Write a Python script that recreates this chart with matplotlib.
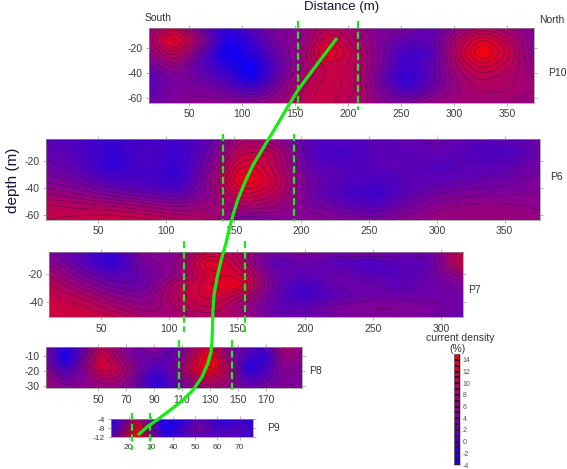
import numpy as np
import matplotlib
matplotlib.use('Agg')
import matplotlib.pyplot as plt
from matplotlib.colors import LinearSegmentedColormap

plt.rcParams['font.family'] = ['Liberation Sans', 'DejaVu Sans']
plt.rcParams['axes.unicode_minus'] = False

W, H = 567, 469

# current density (rows = depth, columns = distance)
p10_x = [12, 36, 60, 85, 109, 133, 157, 181, 206, 230, 254, 278, 302, 326, 351, 375]
p10_d = [-4, -14, -24, -34, -44, -54, -64]
p10_z = [[6, 10, 4, 0, 3, 5, 6, 9, 7, 5, 5, 3, 6, 8, 7, 5],
         [7, 13, 7, -1, 1, 5, 6, 11, 8, 5, 3, 3, 8, 12, 9, 5],
         [6, 10, 4, -2, 0, 4, 7, 13, 9, 5, 1.5, 2, 9, 14, 10, 5],
         [4, 7, 3, 0, -2, 3, 7, 10, 9, 5, 1, 3, 8, 11, 9, 6],
         [2.5, 5, 4, 2, -2, 4, 8, 10, 9, 4, 0, 3, 7, 9, 8, 7],
         [3, 5, 5, 4, 2, 5, 9, 10, 9, 5, 1.5, 4, 7, 8, 8, 7],
         [4, 5, 6, 6, 6, 7, 9, 10, 8, 6, 5, 7, 7, 7, 7, 6]]

p6_x = [12, 36, 60, 85, 109, 133, 157, 181, 206, 230, 254, 278, 302, 326, 351, 376]
p6_d = [-4, -14, -24, -34, -44, -54, -64]
p6_z = [[3, 2, 1, 2, 1.5, 3, 8, 6, 2.5, 2.5, 3, 3.5, 4, 3, 3, 4],
        [3.5, 2.5, 0.5, 2.5, 1, 4, 10, 9, 2.5, 1.5, 3, 3, 3.5, 2.5, 2, 4],
        [4, 3, 0, 2.5, 0.5, 5, 12, 9, 3, 2.5, 3, 3, 2.5, 3, 3, 4.5],
        [5, 4, 2, 2, 0.5, 6, 14, 10, 4, 3, 2, 3, 3, 3.5, 4, 5],
        [7, 6, 4.5, 3.5, 2.5, 6, 11, 9, 4, 2, 1, 3, 4.5, 5, 5, 5.5],
        [9, 8.5, 8, 7, 6, 7, 8, 7, 5, 3.5, 2.5, 4.5, 6, 6.5, 6.5, 6],
        [9.5, 10, 10.5, 10, 9, 8, 4, 5, 6, 5.5, 5, 6, 7, 7, 7, 6.5]]

p7_x = [12, 35, 59, 82, 106, 129, 152, 176, 199, 223, 246, 270, 293, 316]
p7_d = [-4, -12, -20, -28, -36, -44, -52]
p7_z = [[5, 3, 0.5, 6, 5, 10, 8, 4, 5, 4, 5, 4, 4, 10],
        [6, 3, 0, 5, 6, 13, 9, 2.5, 4, 3, 1.5, 3, 3, 11],
        [8, 4.5, 2.5, 4, 6, 11, 11, 4, 3, 4, 3, 2.5, 4, 7],
        [9, 6.5, 4, 3.5, 9, 11, 13, 4, 1.5, 4, 4, 3, 4, 5],
        [10, 8.5, 6, 5, 9, 11, 9, 4, 1, 3, 4, 4, 4, 4],
        [10, 10, 8, 6, 8, 10, 7, 3.5, 3, 5, 5.5, 5.5, 5, 4],
        [10, 10.5, 10, 8, 7, 8, 8, 4, 4, 4.5, 5, 5, 4.5, 3.5]]

p8_x = [12.5, 25.6, 38.7, 51.8, 64.9, 78, 91.1, 104.2, 117.4, 130.5, 143.6, 156.7, 169.8, 182.9, 196]
p8_d = [-4, -11, -18, -25, -32]
p8_z = [[5, 0, 3, 9, 6, 4, 6, 3, 7, 11, 5, 3, 2, 8, 6],
        [5, -2, 4, 11, 7, 4, 4, 3, 9, 14, 6, 2, 0, 7, 6],
        [6, 1, 5, 11, 9, 5, 2, 4, 11, 14, 8, -1, 2, 6, 5],
        [7, 4, 5, 8, 8, 4, 0, 3, 8, 10, 7, 2, 3, 5, 5],
        [7, 6, 6, 6, 6, 4, 0, 3, 6, 7, 6, 4, 5, 6, 5]]

p9_x = [12, 17.8, 23.6, 29.5, 35.3, 41.1, 46.9, 52.7, 58.5, 64.4, 70.2, 76]
p9_d = [-4, -8, -12]
p9_z = [[0, 3, 9, 3, 0, -1, 1, 3, 1, 0, 1, 0],
        [0, 5, 13, 6, -1, 0, 3, 5, 2, 2, 3, 1],
        [2, 9, 14, 7, 1, 1, 3, 3, 3, 3, 2, 1]]

# green trace across the sections, in picture pixels
trace_x = [337, 318, 298, 287, 277, 265, 253, 245, 238, 233, 229, 226, 221, 217, 214, 213,
           212.5, 212, 211, 208, 202, 193, 183, 173, 157, 147, 138]
trace_y = [38, 63, 90, 108, 125, 145, 165, 182, 199, 215, 230, 243, 261, 278, 295, 310,
           325, 342, 352, 363, 377, 390, 400, 408, 420, 427, 435]

cbar_levels = [-4, -2, 0, 2, 4, 6, 8, 10, 12, 14]

cmap = LinearSegmentedColormap.from_list('density', ['#0000ff', '#8a0090', '#ff0000'])
norm = plt.Normalize(-4, 15)
fill_levels = np.arange(-5, 17.01, 0.5)
line_levels = np.arange(-4, 15.01, 1)


def upsample(x, d, z, n=12, blur=3):
    # refine the read-off grid and soften it so contours look round
    x2 = np.linspace(x[0], x[-1], (len(x) - 1) * n + 1)
    d2 = np.linspace(d[0], d[-1], (len(d) - 1) * n + 1)
    z = np.array(z, dtype=float)
    a = np.array([np.interp(x2, x, row) for row in z])
    b = np.array([np.interp(d2[::-1], d[::-1], col[::-1])[::-1] for col in a.T]).T
    k = np.exp(-0.5 * (np.arange(-3 * blur, 3 * blur + 1) / blur) ** 2)
    k = k / k.sum()
    pad = 3 * blur
    b = np.pad(b, pad, mode='edge')
    b = np.apply_along_axis(lambda v: np.convolve(v, k, mode='same'), 0, b)
    b = np.apply_along_axis(lambda v: np.convolve(v, k, mode='same'), 1, b)
    return x2, d2, b[pad:-pad, pad:-pad] * 1.2 - 1.4


def box(left, right, top, bottom):
    return [left / W, 1 - bottom / H, (right - left) / W, (bottom - top) / H]


def section(rect, x, d, z, xlim, ylim, xticks, yticks, dash_x, dash_y, size=7.5):
    ax = fig.add_axes(box(*rect))
    x2, d2, z2 = upsample(x, d, z)
    ax.contourf(x2, d2, z2, levels=fill_levels, cmap=cmap, norm=norm, extend='both')
    styles = [':' if v < 3 else '-' for v in line_levels]
    ax.contour(x2, d2, z2, levels=line_levels, colors='#2a0a40', linewidths=0.4,
               linestyles=styles, alpha=0.65)
    ax.set_xlim(xlim)
    ax.set_ylim(ylim)
    ax.set_xticks(xticks)
    ax.set_yticks(yticks)
    ax.tick_params(top=True, right=True, direction='out', length=2.5, width=0.5,
                   color='#909090', labelcolor='#3c3c3c', labelsize=size, pad=2)
    for s in ax.spines.values():
        s.set_linewidth(0.5)
        s.set_color('#909090')
    for xd in dash_x:
        ax.plot([xd, xd], dash_y, color='#1fe61f', lw=1.6, ls=(0, (3.2, 1.6)),
                clip_on=False, zorder=5)
    return ax


fig = plt.figure(figsize=(W / 100, H / 100), dpi=100, facecolor='white')

section((148.5, 534, 28, 103), p10_x, p10_d, p10_z, (11.8, 375), (-64, -4),
        range(50, 351, 50), [-20, -40, -60], [152.8, 209.4], (1.6, -69.6))
section((46, 540, 139, 220), p6_x, p6_d, p6_z, (11.6, 376), (-64, -4),
        range(50, 351, 50), [-20, -40, -60], [142.2, 194.8], (-0.3, -64.7))
section((49.3, 463, 252.3, 317.3), p7_x, p7_d, p7_z, (12, 316), (-51.5, -4),
        range(50, 301, 50), [-20, -40], [110.8, 155.6], (4, -62))
section((46, 301.7, 346.7, 388.3), p8_x, p8_d, p8_z, (12.5, 195.8), (-31.5, -4),
        range(50, 171, 20), [-10, -20, -30], [107.8, 146], (0.4, -33))
section((111, 253.3, 419.3, 437.3), p9_x, p9_d, p9_z, (12, 76.2), (-12, -4),
        range(20, 71, 10), [-4, -8, -12], [21.4, 29.6], (-1.3, -17.8), size=6)

# colour scale
cax = fig.add_axes(box(454, 460, 354, 465))
bar_vals = np.arange(-4, 15.01, 1)
cax.pcolormesh([0, 1], bar_vals, (bar_vals[:-1] + 0.5)[:, None], cmap=cmap, norm=norm,
               edgecolors='#3a0a30', linewidth=0.15)
cax.set_xticks([])
cax.set_yticks(cbar_levels)
cax.yaxis.tick_right()
cax.tick_params(length=0, labelsize=5, labelcolor='#505050', pad=2)
for s in cax.spines.values():
    s.set_linewidth(0.4)
    s.set_color('#a0a0a0')

# texts and trace sit on a top layer measured in picture pixels
top = fig.add_axes([0, 0, 1, 1])
top.set_xlim(0, W)
top.set_ylim(H, 0)
top.axis('off')
top.plot(trace_x, trace_y, color='#12ee12', lw=2.3, solid_capstyle='butt')

navy = '#14143c'
grey = '#333333'
top.text(342, 7, 'Distance (m)', fontsize=9.5, color=navy, ha='center', va='center')
top.text(13, 180, 'depth (m)', fontsize=11, color=navy, ha='center', va='center',
         rotation=90)
top.text(145, 18, 'South', fontsize=7.5, color=grey, ha='left', va='center')
top.text(539, 20, 'North', fontsize=7.5, color=grey, ha='left', va='center')
top.text(557, 73, 'P10', fontsize=7.5, color=grey, ha='center', va='center')
top.text(556, 177, 'P6', fontsize=7.5, color=grey, ha='center', va='center')
top.text(474, 290, 'P7', fontsize=7.5, color=grey, ha='center', va='center')
top.text(315, 371, 'P8', fontsize=7.5, color=grey, ha='center', va='center')
top.text(273, 428, 'P9', fontsize=7.5, color=grey, ha='center', va='center')
top.text(460, 338, 'current density', fontsize=7.5, color=grey, ha='center', va='center')
top.text(457, 349, '(%)', fontsize=7.5, color=grey, ha='center', va='center')

fig.savefig('out.png', dpi=100)
